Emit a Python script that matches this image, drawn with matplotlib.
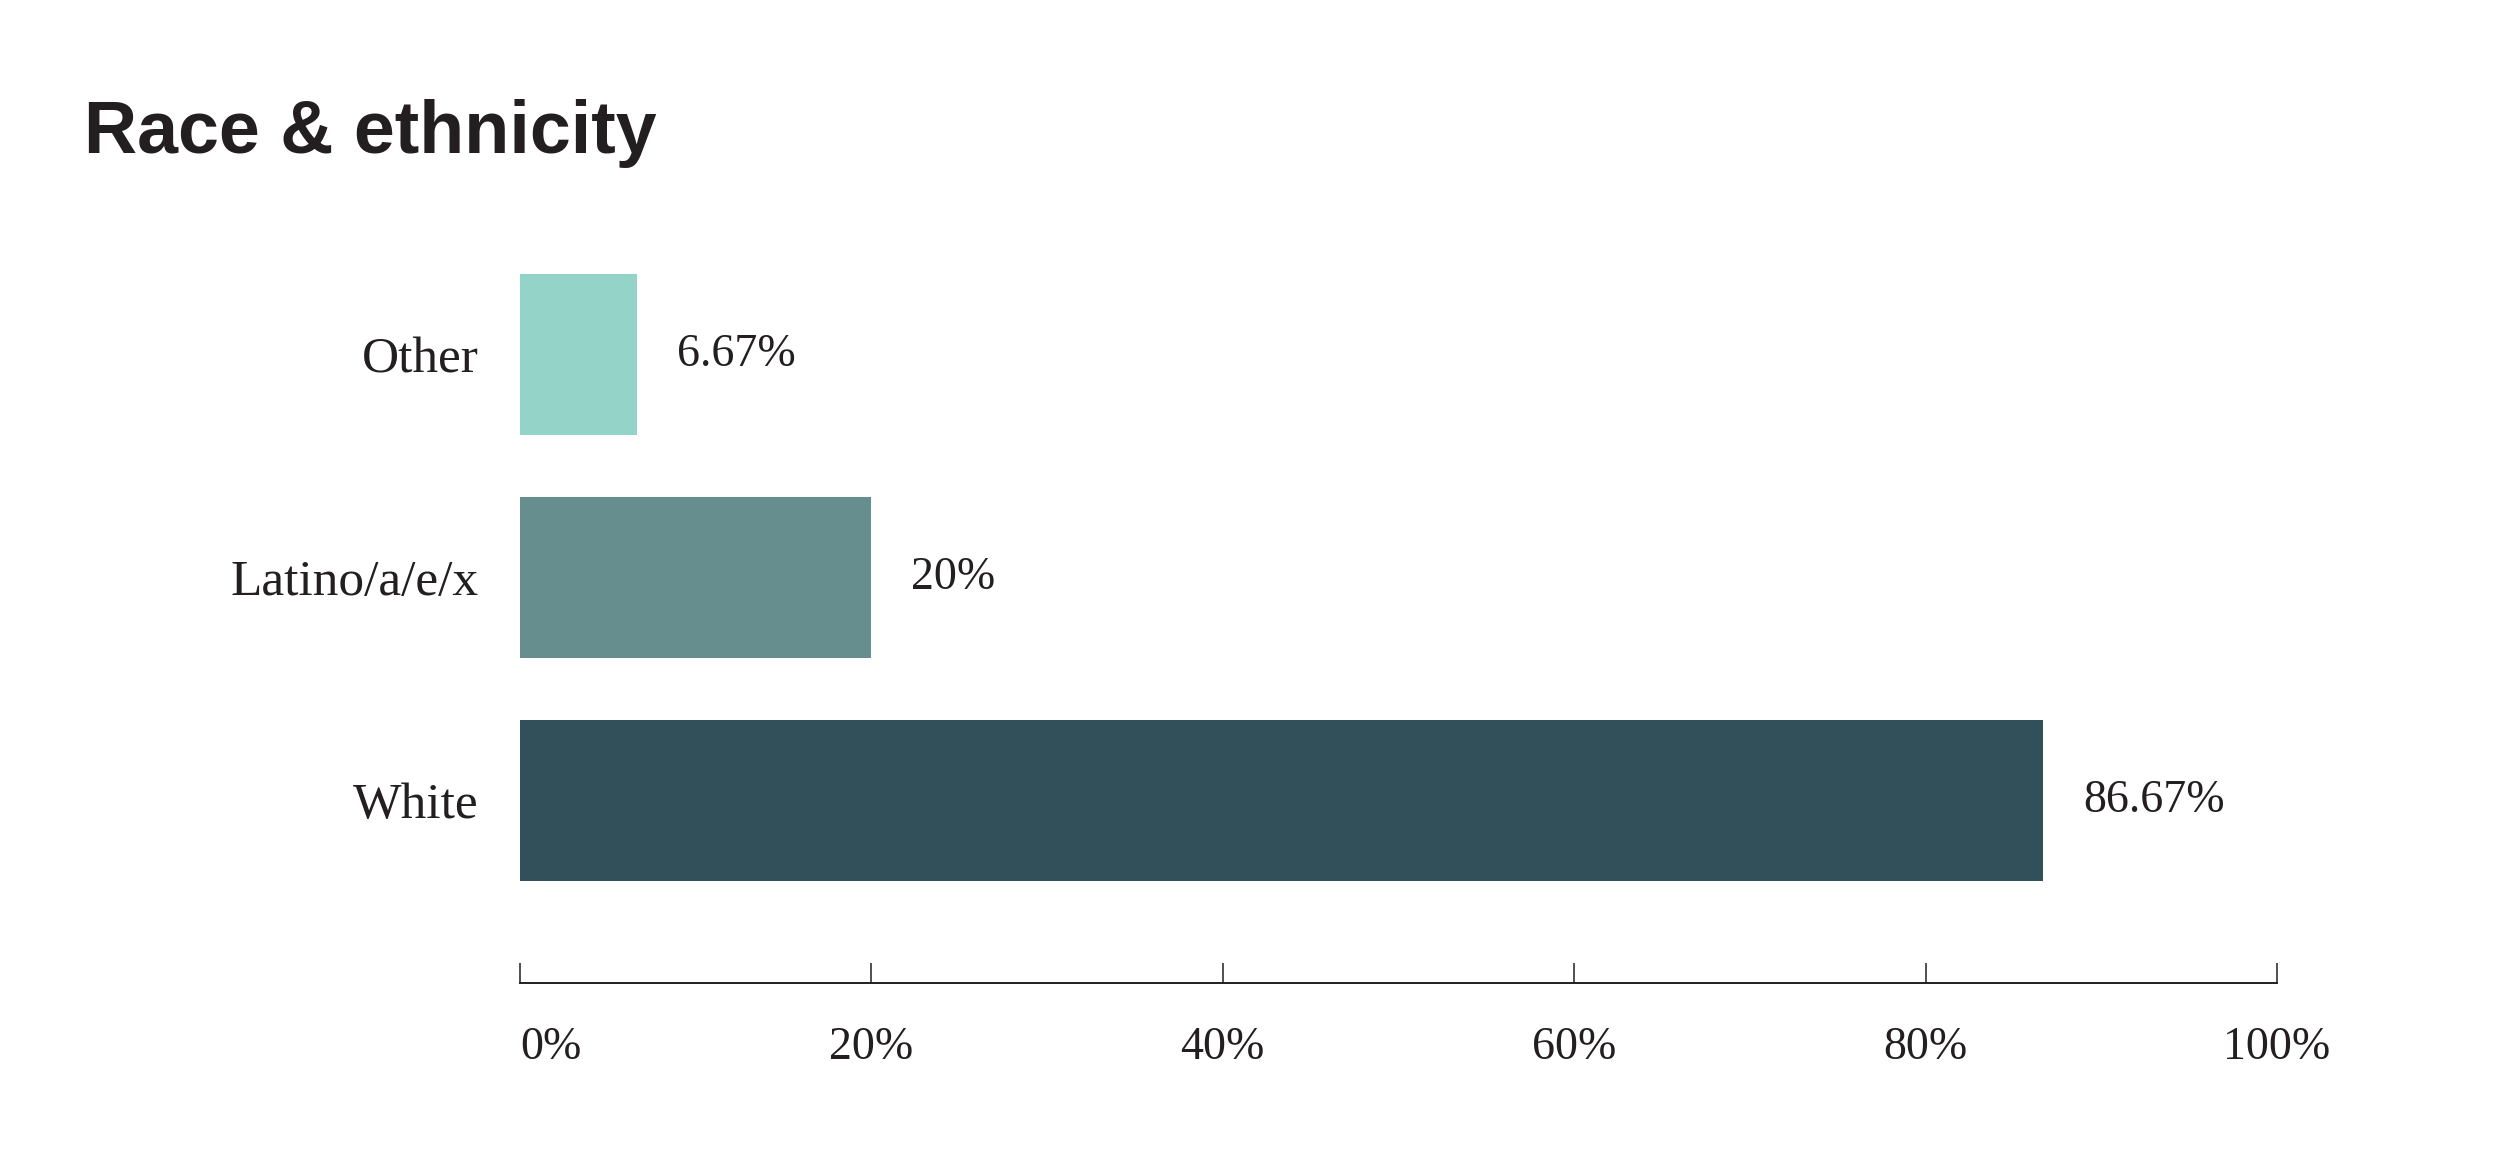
import matplotlib
matplotlib.use("Agg")
import matplotlib.pyplot as plt
from matplotlib.ticker import FuncFormatter

categories = ["Other", "Latino/a/e/x", "White"]
values = [6.67, 20, 86.67]
value_labels = ["6.67%", "20%", "86.67%"]
colors = ["#93d3c8", "#668e8e", "#32505a"]
xticks = [0, 20, 40, 60, 80, 100]

TXT = "#231f20"
SERIF = ["Liberation Serif", "DejaVu Serif"]

fig = plt.figure(figsize=(25, 11.67), dpi=100)
ax = fig.add_axes([520/2500, 1-983/1167, (2277-520)/2500, (983-200)/1167])

pos = list(range(len(categories)))
ax.barh(pos, values, height=0.722, color=colors)
ax.set_xlim(0, 100)
ax.set_ylim(2.818, -0.693)

ax.set_yticks(pos)
ax.set_yticklabels(categories, fontsize=37, family=SERIF, color=TXT)
ax.tick_params(axis="y", length=0, pad=30)

ax.set_xticks(xticks)
ax.xaxis.set_major_formatter(FuncFormatter(lambda v, p: f"{int(v)}%"))
ax.tick_params(axis="x", direction="in", length=14.4, width=1.1, color=TXT,
               pad=31, labelsize=33, labelcolor=TXT)
for lab in ax.get_xticklabels():
    lab.set_family(SERIF)
ax.get_xticklabels()[0].set_horizontalalignment("left")

for s in ["top", "right", "left"]:
    ax.spines[s].set_visible(False)
ax.spines["bottom"].set_linewidth(1.4)
ax.spines["bottom"].set_color(TXT)

for p, v, t in zip(pos, values, value_labels):
    ax.annotate(t, xy=(v, p), xytext=(28.8, 0), textcoords="offset points",
                ha="left", va="center", fontsize=33, family=SERIF, color=TXT)

fig.text(84/2500, 1-153/1167, "Race & ethnicity", fontsize=53, fontweight="bold",
         family=["Liberation Sans", "DejaVu Sans"], color=TXT, va="baseline", ha="left")

fig.savefig("out.png", dpi=100, facecolor="white")
